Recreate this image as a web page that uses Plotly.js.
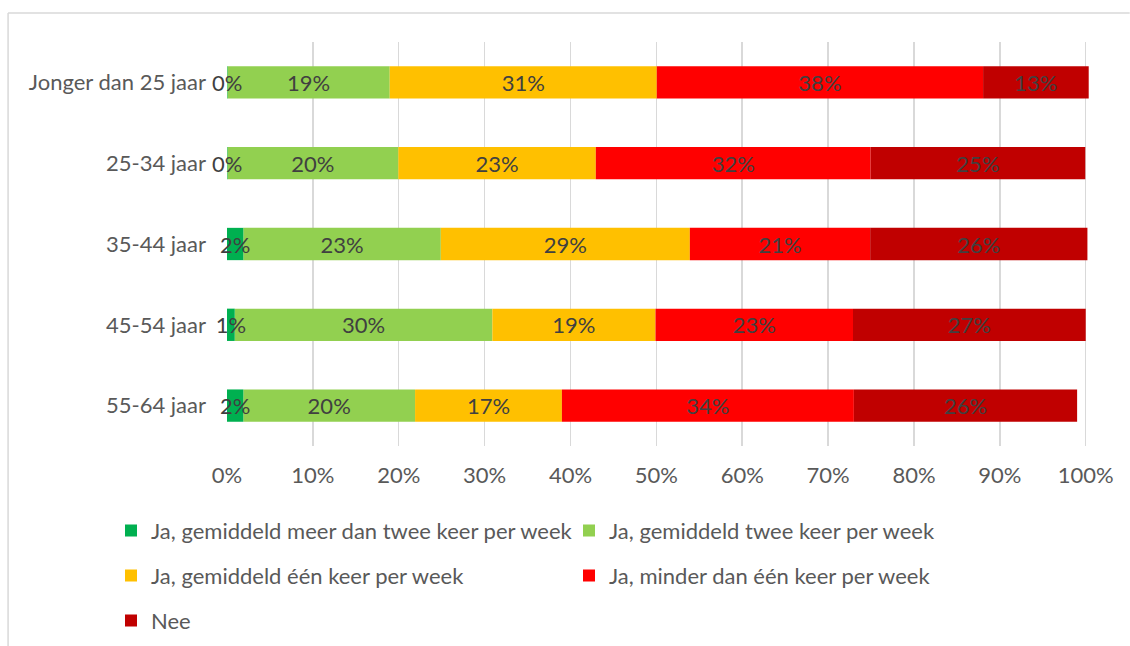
<!DOCTYPE html>
<html>
<head>
<meta charset="utf-8">
<script src="https://cdn.plot.ly/plotly-3.0.1.min.js"></script>
<style>html,body{margin:0;padding:0;background:#fff;}#chart{width:1130px;height:646px;}</style>
</head>
<body>
<div id="chart"></div>
<script>
// Categories (top to bottom)
var categories = ["Jonger dan 25 jaar", "25-34 jaar", "35-44 jaar", "45-54 jaar", "55-64 jaar"];

// Series values (percent)
var meerDanTwee   = [0.05, 0.05, 1.9, 0.9, 1.9];
var tweeKeer      = [18.9, 19.9, 23.0, 30.0, 20.0];
var eenKeer       = [31.1, 23.0, 29.0, 19.0, 17.1];
var minderDanEen  = [38.0, 32.0, 21.0, 23.0, 34.0];
var nee           = [12.3, 25.0, 25.3, 27.1, 26.0];

// Printed data labels
var meerDanTweeLbl  = ["0%", "0%", "2%", "1%", "2%"];
var tweeKeerLbl     = ["19%", "20%", "23%", "30%", "20%"];
var eenKeerLbl      = ["31%", "23%", "29%", "19%", "17%"];
var minderDanEenLbl = ["38%", "32%", "21%", "23%", "34%"];
var neeLbl          = ["13%", "25%", "26%", "27%", "26%"];

var seriesNames = [
  "Ja, gemiddeld meer dan twee keer per week",
  "Ja, gemiddeld twee keer per week",
  "Ja, gemiddeld één keer per week",
  "Ja, minder dan één keer per week",
  "Nee"
];
var xTickVals = [0,10,20,30,40,50,60,70,80,90,100];
var xTickText = ["0%","10%","20%","30%","40%","50%","60%","70%","80%","90%","100%"];

var colors = ["#00B050", "#92D050", "#FFC000", "#FF0000", "#C00000"];
var legendIds = ["legend", "legend2", "legend3", "legend4", "legend5"];
var values = [meerDanTwee, tweeKeer, eenKeer, minderDanEen, nee];
var labels = [meerDanTweeLbl, tweeKeerLbl, eenKeerLbl, minderDanEenLbl, neeLbl];

var FONT = "Lato, 'Open Sans', sans-serif";
var FS = 22;

// cumulative bases for stacking (computed from the series)
var bases = [];
var running = categories.map(function(){ return 0; });
values.forEach(function(v){
  bases.push(running.slice());
  running = running.map(function(r, j){ return r + v[j]; });
});

var traces = values.map(function(v, i){
  return {
    type: "bar",
    orientation: "h",
    name: seriesNames[i],
    y: categories,
    x: v,
    base: bases[i],
    text: labels[i],
    textposition: "inside",
    insidetextanchor: "middle",
    textangle: 0,
    constraintext: "none",
    cliponaxis: false,
    textfont: {family: FONT, size: FS, color: "#404040"},
    marker: {color: colors[i], line: {width: 0}},
    legend: legendIds[i],
    hoverinfo: "skip"
  };
});
// draw the first (narrow) series last so its labels sit on top
var drawOrder = [1, 2, 3, 4, 0].map(function(i){ return traces[i]; });

var W = 1130, H = 646;
var plotL = 227, plotR = 1090.3, plotT = 42, plotB = 446;
function px2paperX(p){ return (p - plotL) / (plotR - plotL); }
function py2paperY(p){ return (plotB - p) / (plotB - plotT); }

function mkLegend(xPx, yPx){
  return {
    orientation: "h",
    xref: "container", yref: "container",
    xanchor: "left", yanchor: "middle",
    x: xPx / W, y: 1 - yPx / H,
    font: {family: FONT, size: FS, color: "#595959"},
    bgcolor: "rgba(0,0,0,0)"
  };
}

var layout = {
  width: W, height: H,
  margin: {l: plotL, r: W - plotR, t: plotT, b: H - plotB},
  paper_bgcolor: "#fff",
  plot_bgcolor: "#fff",
  barmode: "overlay",
  bargap: 0.6,
  font: {family: FONT, size: FS, color: "#595959"},
  showlegend: true,
  xaxis: {
    range: [0, 100.5],
    tickvals: xTickVals,
    ticktext: xTickText,
    showgrid: true,
    gridcolor: "#D9D9D9",
    gridwidth: 1.5,
    zeroline: false,
    showline: false,
    ticks: "",
    ticklabelstandoff: 14,
    tickfont: {family: FONT, size: FS, color: "#595959"},
    fixedrange: true
  },
  yaxis: {
    type: "category",
    autorange: "reversed",
    showgrid: false,
    zeroline: false,
    showline: false,
    ticks: "",
    ticklabelstandoff: 20,
    tickfont: {family: FONT, size: FS, color: "#595959"},
    fixedrange: true
  },
  legend:  mkLegend(111, 530.7),
  legend2: mkLegend(569, 530.7),
  legend3: mkLegend(111, 575.7),
  legend4: mkLegend(569, 575.7),
  legend5: mkLegend(111, 620.8),
  shapes: [
    {type: "line", xref: "paper", yref: "paper",
     x0: px2paperX(8), x1: px2paperX(1130), y0: py2paperY(13), y1: py2paperY(13),
     line: {color: "#D9D9D9", width: 1.5}},
    {type: "line", xref: "paper", yref: "paper",
     x0: px2paperX(8), x1: px2paperX(8), y0: py2paperY(13), y1: py2paperY(646),
     line: {color: "#D9D9D9", width: 1.5}}
  ]
};

Plotly.newPlot("chart", drawOrder, layout, {displayModeBar: false, staticPlot: true});
</script>
</body>
</html>
